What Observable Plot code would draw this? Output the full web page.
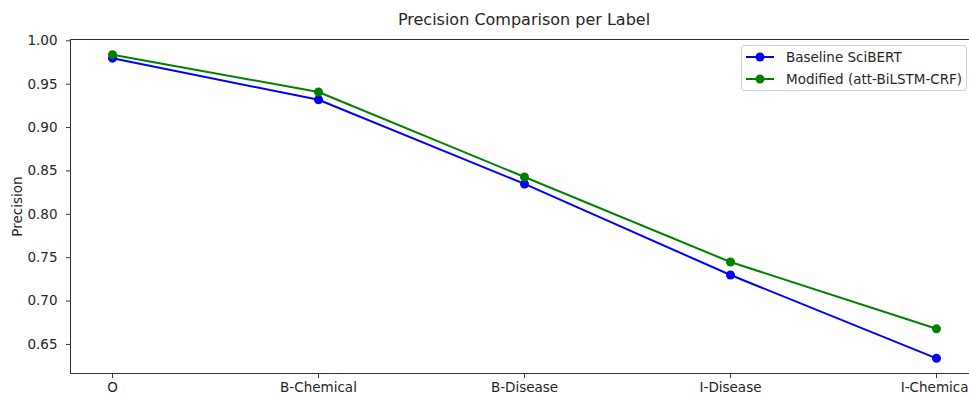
<!DOCTYPE html>
<html>
<head>
<meta charset="utf-8">
<script src="https://cdn.jsdelivr.net/npm/d3@7"></script>
<script src="https://cdn.jsdelivr.net/npm/@observablehq/plot@0.6"></script>
<style>
  html, body { margin: 0; padding: 0; background: #fff; overflow: hidden; }
  #wrap { position: relative; width: 969px; height: 394px; font-family: "DejaVu Sans", sans-serif; color: #262626; }
  #title { position: absolute; left: 524px; top: 12px; transform: translateX(-50%); font-size: 16px; white-space: nowrap; line-height: 1; }
  #chart { position: absolute; left: 0; top: 30px; }
  #legend { position: absolute; left: 741px; top: 45px; width: 226px; height: 46px; box-sizing: border-box;
            border: 1px solid #d0d0d0; border-radius: 3px; background: rgba(255,255,255,0.85); font-size: 13.5px; }
  .row { position: absolute; left: 3px; display: flex; align-items: center; white-space: nowrap; }
  .row svg { margin-right: 11px; }
</style>
</head>
<body>
<div id="wrap">
  <div id="title"></div>
  <div id="chart"></div>
  <div id="legend"></div>
</div>
<script>
const titleText = "Precision Comparison per Label";
const yLabel = "Precision";
const labels = ["O", "B-Chemical", "B-Disease", "I-Disease", "I-Chemical"];
const baseline = [0.980, 0.932, 0.835, 0.730, 0.634];
const modified = [0.984, 0.941, 0.843, 0.745, 0.668];
const seriesNames = ["Baseline SciBERT", "Modified (att-BiLSTM-CRF)"];
const seriesColors = ["#0000ff", "#008000"];
const yTicks = [0.65, 0.70, 0.75, 0.80, 0.85, 0.90, 0.95, 1.00];

const seriesValues = [baseline, modified];
const data = seriesValues.map((vals, s) =>
  labels.map((label, i) => ({label, value: vals[i], series: seriesNames[s]}))
);

document.getElementById("title").textContent = titleText;

const fmt = d3.format(".2f");
const seriesMarks = data.flatMap(rows => [
  Plot.line(rows, {x: "label", y: "value", stroke: "series", strokeWidth: 2}),
  Plot.dot(rows, {x: "label", y: "value", fill: "series", r: 4.5})
]);

const chart = Plot.plot({
  width: 969,
  height: 364,
  marginTop: 9,
  marginBottom: 21,
  marginLeft: 70,
  marginRight: 0,
  style: {fontFamily: "DejaVu Sans", fontSize: "13.5px", color: "#262626", background: "white", overflow: "visible"},
  x: {type: "point", domain: labels, range: [111, 937.7], padding: 0, label: null},
  y: {domain: [0.6165, 1.0015], label: yLabel},
  color: {domain: seriesNames, range: seriesColors},
  marks: [
    Plot.frame({anchor: "left", stroke: "#333"}),
    Plot.frame({anchor: "top", stroke: "#333"}),
    Plot.frame({anchor: "bottom", stroke: "#333"}),
    Plot.axisY({ticks: yTicks, tickFormat: fmt, tickSize: 4, tickPadding: 9, stroke: "#333",
                label: yLabel, labelAnchor: "center", labelArrow: "none", labelOffset: 58}),
    Plot.axisX({tickSize: 5, tickPadding: 4, stroke: "#333", label: null}),
    ...seriesMarks
  ]
});
document.getElementById("chart").appendChild(chart);

const legend = document.getElementById("legend");
seriesNames.forEach((name, i) => {
  const row = document.createElement("div");
  row.className = "row";
  row.style.top = (i === 0 ? 3 : 25) + "px";
  row.innerHTML = `<svg width="30" height="16"><line x1="1" x2="29" y1="8" y2="8" stroke="${seriesColors[i]}" stroke-width="2"/><circle cx="15" cy="8" r="4.5" fill="${seriesColors[i]}"/></svg><span></span>`;
  row.querySelector("span").textContent = name;
  legend.appendChild(row);
});
</script>
</body>
</html>
